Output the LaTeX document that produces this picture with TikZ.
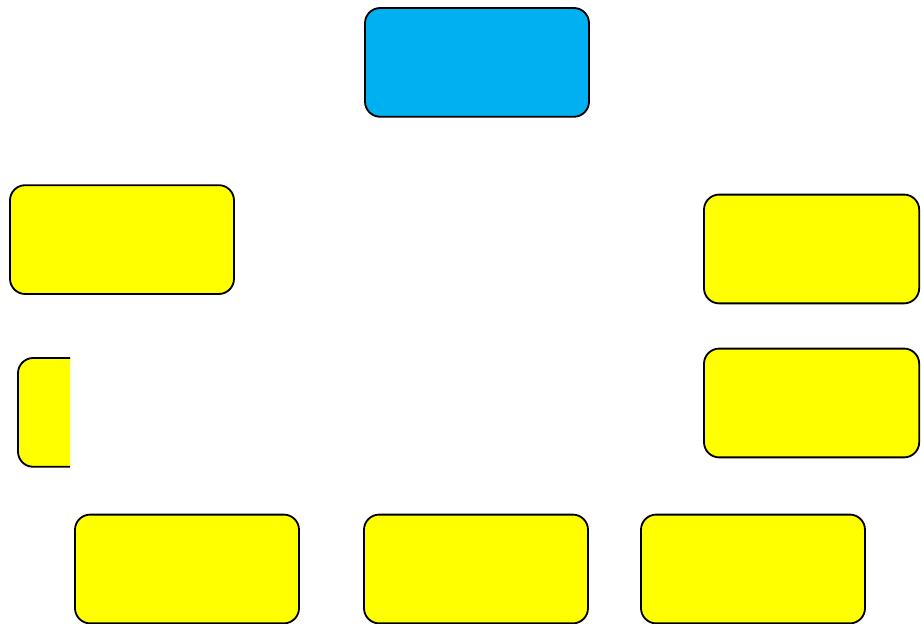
\documentclass[tikz,border=0pt]{standalone}
\usepackage{tikz}
\usetikzlibrary{positioning}
\definecolor{boxblue}{HTML}{00B0F0}
\definecolor{boxyellow}{HTML}{FFFF00}

\begin{document}
\begin{tikzpicture}[
    box/.style={draw, line width=1.3pt, rounded corners=0.38cm, minimum width=5.6cm, minimum height=2.72cm, fill=boxyellow},
    sidebox/.style={box, minimum width=5.38cm}
]
\useasboundingbox (0,0) rectangle (23.025,15.6);
\node[box, fill=boxblue] (top) at (11.925,14.04) {};
\node[box] (leftup) at (3.05,9.61) {};
\node[sidebox] (rightup) at (20.29,9.375) {};
\node[sidebox] (rightlow) at (20.29,5.525) {};
\begin{scope}
  \clip (0,0) rectangle (1.75,15.6);
  \node[box] (leftlow) at (3.25,5.29) {};
\end{scope}
\node[box] (botleft) at (4.675,1.375) {};
\node[box] (botmid) at (11.9,1.375) {};
\node[box] (botright) at (18.825,1.375) {};
\end{tikzpicture}
\end{document}
